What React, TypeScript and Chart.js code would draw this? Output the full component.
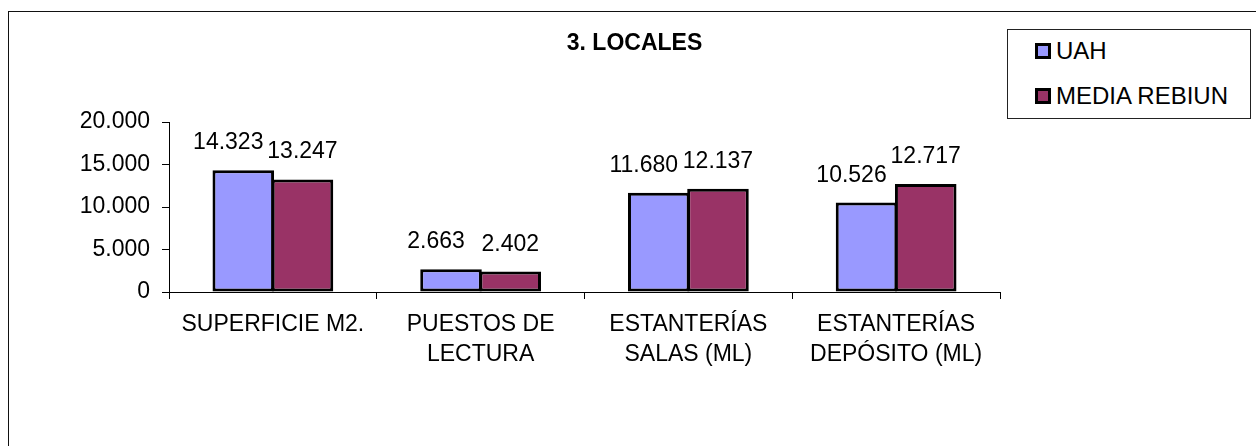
import React, { useEffect, useRef } from 'react';
import { Chart, registerables } from 'chart.js';

Chart.register(...registerables);

const TITLE = '3. LOCALES';
const CATEGORIES: string[][] = [
  ['SUPERFICIE M2.'],
  ['PUESTOS DE', 'LECTURA'],
  ['ESTANTERÍAS', 'SALAS (ML)'],
  ['ESTANTERÍAS', 'DEPÓSITO (ML)'],
];
const SERIES_NAMES = ['UAH', 'MEDIA REBIUN'];
const UAH = [14323, 2663, 11680, 10526];
const MEDIA_REBIUN = [13247, 2402, 12137, 12717];
const COLORS = ['#9999FF', '#993366'];
const Y_MIN = 0;
const Y_MAX = 20000;
const Y_STEP = 5000;

const FONT = "'Liberation Sans', Arial, Helvetica, sans-serif";

function fmt(n: number): string {
  return Math.round(n).toString().replace(/\B(?=(\d{3})+(?!\d))/g, '.');
}

const valueLabels = {
  id: 'valueLabels',
  afterDatasetsDraw(chart: any) {
    const ctx = chart.ctx;
    ctx.save();
    ctx.font = `23px ${FONT}`;
    ctx.fillStyle = '#000';
    ctx.textAlign = 'center';
    ctx.textBaseline = 'alphabetic';
    chart.data.datasets.forEach((ds: any, i: number) => {
      const meta = chart.getDatasetMeta(i);
      const dx = i === 0 ? -15 : 0;
      meta.data.forEach((el: any, j: number) => {
        ctx.fillText(fmt(ds.data[j]), el.x + dx, el.y - 21);
      });
    });
    ctx.restore();
  },
};

export default function App() {
  const ref = useRef<HTMLCanvasElement>(null);

  useEffect(() => {
    if (!ref.current) return;
    const seriesData = [UAH, MEDIA_REBIUN];
    const chart = new Chart(ref.current, {
      type: 'bar',
      data: {
        labels: CATEGORIES,
        datasets: SERIES_NAMES.map((name, i) => ({
          label: name,
          data: seriesData[i],
          backgroundColor: COLORS[i],
          borderColor: '#000',
          borderWidth: 3,
          borderSkipped: false,
          categoryPercentage: 0.57,
          barPercentage: 1.04,
        })),
      },
      options: {
        responsive: false,
        animation: false,
        devicePixelRatio: 1,
        layout: { padding: { top: 110, right: 256, left: 0, bottom: 0 } },
        plugins: {
          legend: { display: false },
          title: { display: false },
          tooltip: { enabled: false },
        },
        scales: {
          x: {
            grid: {
              display: true,
              drawOnChartArea: false,
              drawTicks: true,
              tickLength: 7,
              color: '#000',
              offset: true,
            },
            border: { display: true, color: '#000', width: 1 },
            ticks: {
              color: '#000',
              font: { family: FONT, size: 23, lineHeight: 1.3 },
              padding: 11,
              maxRotation: 0,
              minRotation: 0,
              autoSkip: false,
            },
            afterFit: (s: any) => {
              s.height = 154;
            },
          },
          y: {
            min: Y_MIN,
            max: Y_MAX,
            grid: {
              drawOnChartArea: false,
              drawTicks: true,
              tickLength: 7,
              color: '#000',
            },
            border: { display: true, color: '#000', width: 1 },
            ticks: {
              stepSize: Y_STEP,
              color: '#000',
              font: { family: FONT, size: 23 },
              padding: 12,
              callback: (v: any) => fmt(Number(v)),
            },
            afterFit: (s: any) => {
              s.width = 160;
            },
          },
        },
      } as any,
      plugins: [valueLabels],
    });
    return () => chart.destroy();
  }, []);

  const rowStyle = (top: number): React.CSSProperties => ({
    position: 'absolute',
    left: 27,
    top,
    height: 26,
    display: 'flex',
    alignItems: 'center',
    whiteSpace: 'nowrap',
  });

  return (
    <div
      style={{
        position: 'absolute',
        left: 8,
        top: 11,
        width: 1248,
        height: 435,
        boxSizing: 'border-box',
        borderLeft: '1px solid #111',
        borderTop: '1px solid #111',
        overflow: 'hidden',
        background: '#fff',
      }}
    >
      <canvas
        ref={ref}
        width={1247}
        height={434}
        style={{ position: 'absolute', left: 0, top: 0, width: 1247, height: 434, display: 'block' }}
      />
      <div
        style={{
          position: 'absolute',
          left: 0,
          right: 0,
          top: 17,
          paddingLeft: 4,
          textAlign: 'center',
          fontFamily: FONT,
          fontWeight: 'bold',
          fontSize: 23,
          lineHeight: '26px',
          color: '#000',
        }}
      >
        {TITLE}
      </div>
      <div
        style={{
          position: 'absolute',
          left: 998,
          top: 17,
          width: 244,
          height: 90,
          boxSizing: 'border-box',
          border: '1px solid #222',
          fontFamily: FONT,
          fontSize: 24,
          color: '#000',
          background: '#fff',
        }}
      >
        {SERIES_NAMES.map((name, i) => (
          <div key={name} style={rowStyle(i === 0 ? 8 : 53)}>
            <span
              style={{
                display: 'inline-block',
                width: 16,
                height: 16,
                boxSizing: 'border-box',
                border: '3px solid #000',
                background: COLORS[i],
                marginRight: 5,
              }}
            />
            <span style={{ lineHeight: '26px' }}>{name}</span>
          </div>
        ))}
      </div>
    </div>
  );
}
